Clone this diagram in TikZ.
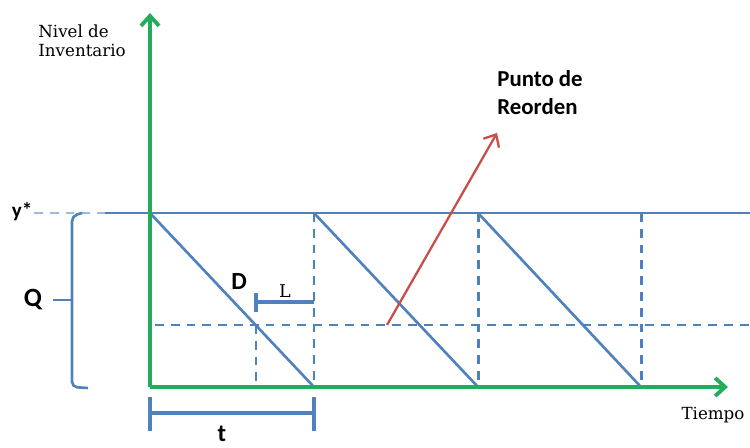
\documentclass[tikz,border=0pt]{standalone}
\usepackage{fontspec}
\setsansfont{Carlito}
\newfontfamily\serifa{DejaVu Serif}
\usetikzlibrary{arrows.meta}
\definecolor{verdeeje}{RGB}{34,172,92}
\definecolor{azul}{RGB}{79,129,189}
\definecolor{rojo}{RGB}{200,78,74}
\tikzset{
  >={Straight Barb[length=2mm,width=3.6mm]},
  eje/.style={draw=verdeeje,line width=2.2pt},
  lin/.style={draw=azul,line width=1.5pt},
  dsh/.style={draw=azul,line width=1.7pt,dash pattern=on 5pt off 4pt},
  et/.style={font=\sffamily\bfseries\fontsize{13}{16}\selectfont,inner sep=0pt},
  es/.style={font=\serifa\fontsize{9.5}{10.5}\selectfont,inner sep=0pt},
}
\begin{document}
\begin{tikzpicture}[x=0.02cm,y=-0.02cm]
\useasboundingbox (0,0) rectangle (750,448);
% puntos del grafico
\coordinate (O) at (150,387); \coordinate (Ytip) at (150,13); \coordinate (Xtip) at (728,387);
\coordinate (T1) at (150,213); \coordinate (T2) at (314,213); \coordinate (T3) at (478,213);
\coordinate (T4) at (641,213); \coordinate (Tfin) at (750,213);
\coordinate (B1) at (314,387); \coordinate (B2) at (478,387); \coordinate (B3) at (641,387);
\coordinate (R0) at (155,325); \coordinate (Rfin) at (750,325);
\coordinate (Ra) at (256,325); \coordinate (Rb) at (256,387);
\coordinate (Ya) at (34,213); \coordinate (Yb) at (105,213);
% nivel y reorden
\draw[azul!55,line width=1.4pt,dash pattern=on 5pt off 4pt] (Ya) -- (Yb);
\draw[lin] (Yb) -- (T1) -- (Tfin);
\draw[dsh] (R0) -- (Rfin);
\draw[lin] (T1) -- (B1); \draw[lin] (T2) -- (B2); \draw[lin] (T3) -- (B3);
\draw[dsh] (T2) -- (B1); \draw[dsh] (T3) -- (B2); \draw[dsh] (T4) -- (B3);
\draw[dsh] (Ra) -- (Rb);
% ejes
\draw[eje,->] (O) -- (Ytip);
\draw[eje,->] (O) -- (Xtip);
% corchete Q
\draw[lin,rounded corners=3pt] (82,213) -- (72,216) -- (72,387) -- (88,388);
\draw[lin] (53,300) -- (72,300);
% cotas L y t
\draw[lin,line width=2pt] (256,293) -- (256,312);
\draw[lin,line width=2pt] (256,302) -- (314,302);
\draw[lin,line width=2pt] (150,397) -- (150,431); \draw[lin,line width=2pt] (314,397) -- (314,431);
\draw[lin,line width=2pt] (150,413) -- (314,413);
% flecha roja
\coordinate (Fa) at (387,325); \coordinate (Fb) at (497,133);
\draw[rojo,line width=1.3pt,->] (Fa) -- (Fb);
% textos
\node[es,align=left,anchor=west] (nivel) at (38,41) {Nivel de\\Inventario};
\node[es] (tiempo) at (713,415) {Tiempo};
\node[es,font=\serifa\fontsize{10}{12}\selectfont] (lL) at (285,291) {L};
\node[et,align=left,anchor=west] (punto) at (497,93) {Punto de\\Reorden};
\node[et,font=\sffamily\bfseries\fontsize{14}{16}\selectfont] (lD) at (239,282) {D};
\node[et,font=\sffamily\bfseries\fontsize{15}{16}\selectfont] (lQ) at (33,300) {Q};
\node[et,font=\sffamily\bfseries\fontsize{14}{16}\selectfont] (lt) at (222,434) {t};
\node[et,font=\sffamily\bfseries\fontsize{12}{13}\selectfont] (ly) at (22,212) {y*};
\end{tikzpicture}
\end{document}
